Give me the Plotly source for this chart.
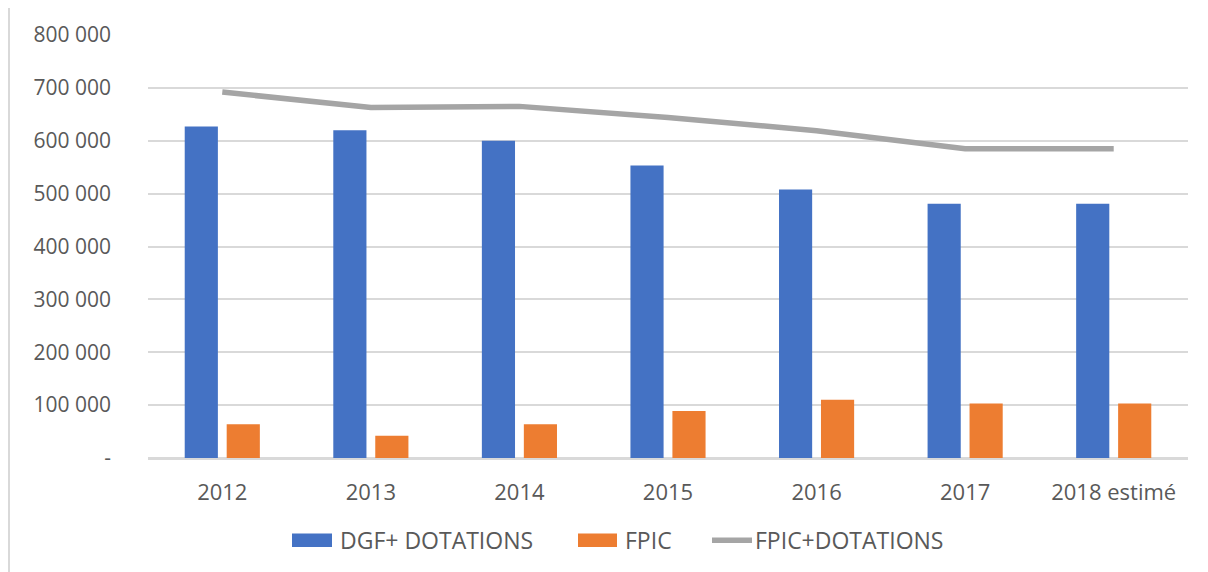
import plotly.graph_objects as go

categories = ["2012", "2013", "2014", "2015", "2016", "2017", "2018 estimé"]
dgf_dotations = [627000, 620000, 600000, 553000, 508000, 481000, 481000]
fpic = [64000, 42000, 64000, 89000, 110000, 103000, 103000]
fpic_dotations = [692000, 663000, 665000, 644000, 619000, 585000, 585000]
y_tick_vals = [0, 100000, 200000, 300000, 400000, 500000, 600000, 700000, 800000]
y_tick_text = ["-", "100 000", "200 000", "300 000", "400 000", "500 000", "600 000", "700 000", "800 000"]
series_names = ["DGF+ DOTATIONS", "FPIC", "FPIC+DOTATIONS"]

FONT = "Open Sans"
TXT = "#595959"
BLUE, ORANGE, GRAY = "#4472C4", "#ED7D31", "#A5A5A5"

fig = go.Figure()
fig.add_trace(go.Bar(x=categories, y=dgf_dotations, name=series_names[0],
                     marker=dict(color=BLUE, line=dict(width=0))))
fig.add_trace(go.Bar(x=categories, y=fpic, name=series_names[1],
                     marker=dict(color=ORANGE, line=dict(width=0))))
fig.add_trace(go.Scatter(x=categories, y=fpic_dotations, name=series_names[2],
                         mode="lines", line=dict(color=GRAY, width=5.5)))

fig.update_layout(
    width=1208, height=572,
    margin=dict(l=140, r=28, t=18, b=122),
    paper_bgcolor="white", plot_bgcolor="white",
    barmode="group", bargap=0.435, bargroupgap=0.21,
    font=dict(family=FONT, size=21, color=TXT),
    showlegend=False,
)
fig.update_xaxes(showgrid=False, ticks="", ticklabelstandoff=14,
                 showline=True, linecolor="#D9D9D9", linewidth=1.5,
                 tickfont=dict(family=FONT, size=22, color=TXT))
fig.update_yaxes(range=[0, 800000], tickvals=y_tick_vals, ticktext=y_tick_text,
                 showgrid=True, gridcolor="#D9D9D9", gridwidth=1.5,
                 zeroline=True, zerolinecolor="#D9D9D9", zerolinewidth=1.5,
                 ticks="", ticklabelstandoff=36,
                 tickfont=dict(family=FONT, size=21, color=TXT))

# page-pixel -> paper helpers (plot area spans x 148..1188, y 26..458 on the page)
def px(x):
    return (x - 148) / 1040

def py(y):
    return (458 - y) / 432

# left frame line of the chart area
fig.add_shape(type="line", xref="paper", yref="paper",
              x0=px(9), x1=px(9), y0=py(580), y1=py(-10),
              line=dict(color="#D9D9D9", width=2))

# legend (custom, to match wide swatches)
fig.add_shape(type="rect", xref="paper", yref="paper",
              x0=px(292), x1=px(332), y0=py(549), y1=py(535),
              fillcolor=BLUE, line=dict(width=0))
fig.add_shape(type="rect", xref="paper", yref="paper",
              x0=px(578), x1=px(617), y0=py(549), y1=py(535),
              fillcolor=ORANGE, line=dict(width=0))
fig.add_shape(type="line", xref="paper", yref="paper",
              x0=px(712), x1=px(752), y0=py(542), y1=py(542),
              line=dict(color=GRAY, width=5.5))
for name, xpos in zip(series_names, [338, 623, 753]):
    fig.add_annotation(text=name, xref="paper", yref="paper",
                       x=px(xpos), y=py(542), xanchor="left", yanchor="middle",
                       showarrow=False, font=dict(family=FONT, size=23, color=TXT))

fig.write_html("out.html")
